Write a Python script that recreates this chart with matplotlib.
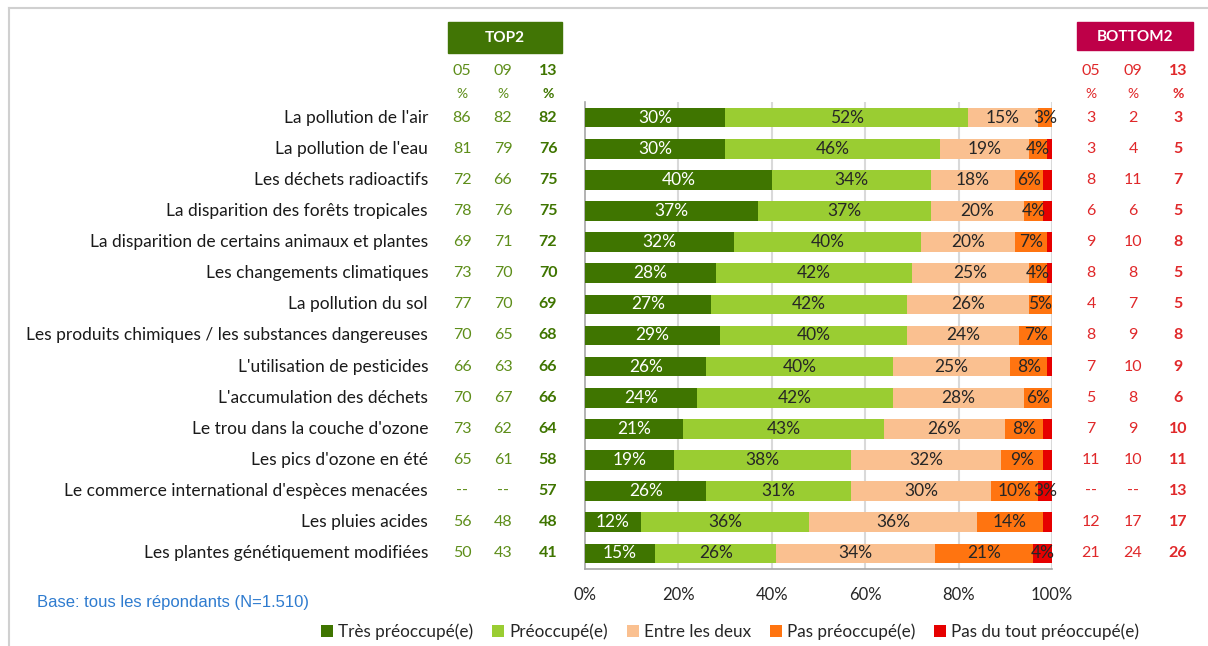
import matplotlib
matplotlib.use("Agg")
import matplotlib.pyplot as plt
from matplotlib.transforms import blended_transform_factory
from matplotlib.lines import Line2D
from matplotlib.patches import Rectangle

categories = [
    "La pollution de l'air",
    "La pollution de l'eau",
    "Les déchets radioactifs",
    "La disparition des forêts tropicales",
    "La disparition de certains animaux et plantes",
    "Les changements climatiques",
    "La pollution du sol",
    "Les produits chimiques / les substances dangereuses",
    "L'utilisation de pesticides",
    "L'accumulation des déchets",
    "Le trou dans la couche d'ozone",
    "Les pics d'ozone en été",
    "Le commerce international d'espèces menacées",
    "Les pluies acides",
    "Les plantes génétiquement modifiées",
]
series_names = ["Très préoccupé(e)", "Préoccupé(e)", "Entre les deux",
                "Pas préoccupé(e)", "Pas du tout préoccupé(e)"]
tres = [30, 30, 40, 37, 32, 28, 27, 29, 26, 24, 21, 19, 26, 12, 15]
preoc = [52, 46, 34, 37, 40, 42, 42, 40, 40, 42, 43, 38, 31, 36, 26]
entre = [15, 19, 18, 20, 20, 25, 26, 24, 25, 28, 26, 32, 30, 36, 34]
pas = [3, 4, 6, 4, 7, 4, 5, 7, 8, 6, 8, 9, 10, 14, 21]
pas_du_tout = [0, 1, 2, 2, 1, 1, 0, 0, 1, 0, 2, 2, 3, 2, 4]

top2_05 = ["86", "81", "72", "78", "69", "73", "77", "70", "66", "70", "73", "65", "--", "56", "50"]
top2_09 = ["82", "79", "66", "76", "71", "70", "70", "65", "63", "67", "62", "61", "--", "48", "43"]
top2_13 = ["82", "76", "75", "75", "72", "70", "69", "68", "66", "66", "64", "58", "57", "48", "41"]
bot2_05 = ["3", "3", "8", "6", "9", "8", "4", "8", "7", "5", "7", "11", "--", "12", "21"]
bot2_09 = ["2", "4", "11", "6", "10", "8", "7", "9", "10", "8", "9", "10", "--", "17", "24"]
bot2_13 = ["3", "5", "7", "5", "8", "5", "5", "8", "9", "6", "10", "11", "13", "17", "26"]
year_labels = ["05", "09", "13"]
xticks = [0, 20, 40, 60, 80, 100]

colors = ["#3F7500", "#9ACD32", "#FAC090", "#FF7410", "#E60000"]
label_colors = ["white", "#262626", "#262626", "#262626", "#262626"]

FONT = "Lato"
plt.rcParams["font.family"] = [FONT, "DejaVu Sans"]

W, H = 1208, 646
fig = plt.figure(figsize=(W / 100, H / 100), dpi=100)

def fx(px):
    return px / W

def fy(py):
    return 1 - py / H

ax = fig.add_axes([fx(585), fy(569), fx(1052) - fx(585), fy(102) - fy(569)])

n = len(categories)
ypos = list(range(n))
series = [tres, preoc, entre, pas, pas_du_tout]
left = [0] * n
for s, vals in enumerate(series):
    ax.barh(ypos, vals, left=left, height=0.63, color=colors[s],
            label=series_names[s], zorder=3)
    for i, v in enumerate(vals):
        if v >= 3:
            ax.text(left[i] + v / 2, i, f"{v}%", ha="center", va="center",
                    fontsize=12.5, color=label_colors[s], zorder=4)
    left = [l + v for l, v in zip(left, vals)]

ax.set_xlim(0, 100)
ax.set_ylim(n - 0.5, -0.5)
ax.set_yticks([])
ax.set_xticks(xticks)
ax.set_xticklabels([f"{t}%" for t in xticks], fontsize=12, color="#262626")
ax.tick_params(axis="x", length=0, pad=13)
for t in xticks[1:]:
    ax.axvline(t, color="#D9D9D9", lw=1.5, zorder=1)
for sp in ["top", "right"]:
    ax.spines[sp].set_visible(False)
for sp in ["left", "bottom"]:
    ax.spines[sp].set_color("#A6A6A6")
    ax.spines[sp].set_linewidth(1.2)

trans = blended_transform_factory(fig.transFigure, ax.transData)

# category labels
for i, c in enumerate(categories):
    fig.text(fx(428), i, c, transform=trans, ha="right", va="center",
             fontsize=12.5, color="#1a1a1a")

# TOP2 / BOTTOM2 columns
top_x = [462, 503, 548]
bot_x = [1091, 1133, 1178]
top_cols = [top2_05, top2_09, top2_13]
bot_cols = [bot2_05, bot2_09, bot2_13]
top_col = "#5E8E1A"
top_bold = "#3F7500"
bot_col = "#E0282A"
for k in range(3):
    bold = k == 2
    for i in range(n):
        fig.text(fx(top_x[k]), i, top_cols[k][i], transform=trans, ha="center",
                 va="center", fontsize=11.5, color=top_bold if bold else top_col,
                 fontweight="bold" if bold else "normal")
        fig.text(fx(bot_x[k]), i, bot_cols[k][i], transform=trans, ha="center",
                 va="center", fontsize=11.5, color=bot_col,
                 fontweight="bold" if bold else "normal")
    for xs, colr, colb in [(top_x, top_col, top_bold), (bot_x, bot_col, bot_col)]:
        fig.text(fx(xs[k]), fy(71), year_labels[k], ha="center", va="center",
                 fontsize=11.5, color=colb if bold else colr,
                 fontweight="bold" if bold else "normal")
        fig.text(fx(xs[k]), fy(94), "%", ha="center", va="center",
                 fontsize=10, color=colb if bold else colr,
                 fontweight="bold" if bold else "normal")

# header boxes
fig.patches.append(Rectangle((fx(448), fy(53)), fx(562) - fx(448), fy(22) - fy(53),
                             transform=fig.transFigure, color="#417505", zorder=0))
fig.text(fx(505), fy(38), "TOP2", ha="center", va="center", fontsize=11,
         color="white", fontweight="bold")
fig.patches.append(Rectangle((fx(1077), fy(50)), fx(1193) - fx(1077), fy(22) - fy(50),
                             transform=fig.transFigure, color="#BE0048", zorder=0))
fig.text(fx(1135), fy(37), "BOTTOM2", ha="center", va="center", fontsize=11,
         color="white", fontweight="bold")

# base note
fig.text(fx(37), fy(602), "Base: tous les répondants (N=1.510)", ha="left",
         va="center", fontsize=12, color="#2E7BCF",
         family=["Liberation Sans", "DejaVu Sans"])

# legend
handles, labels = ax.get_legend_handles_labels()
fig.legend(handles, labels, loc="center", bbox_to_anchor=(fx(730), fy(632)),
           ncol=5, frameon=False, fontsize=12.3, handlelength=0.7,
           handleheight=0.7, handletextpad=0.3, columnspacing=1.1,
           labelcolor="#262626")

# outer frame
fig.add_artist(Line2D([fx(9), fx(9)], [0, fy(8)], transform=fig.transFigure,
                      color="#D0D0D0", lw=1.5))
fig.add_artist(Line2D([fx(9), 1], [fy(8), fy(8)], transform=fig.transFigure,
                      color="#D0D0D0", lw=1.5))

fig.savefig("out.png", dpi=100)
